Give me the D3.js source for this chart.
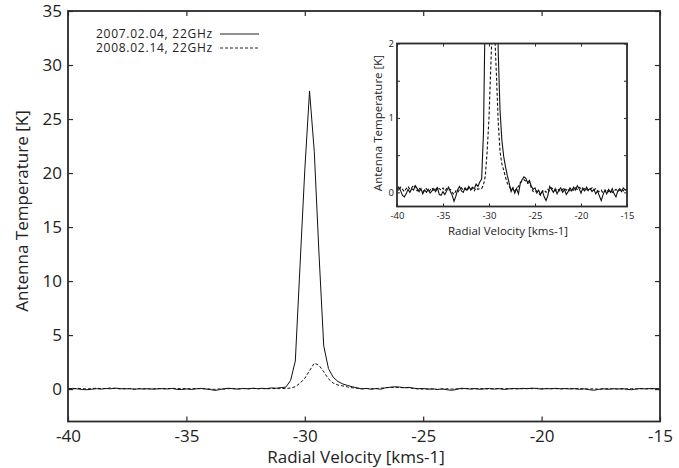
<!DOCTYPE html>
<html>
<head>
<meta charset="utf-8">
<script src="https://cdn.jsdelivr.net/npm/d3@7"></script>
<style>
  body { margin: 0; background: #fff; }
  svg { display: block; font-family: "Open Sans", sans-serif; }
</style>
</head>
<body>
<svg width="679" height="468"></svg>
<script>
// Channel velocities [km/s]
var velocity = [
  -40.0, -39.8, -39.6, -39.4, -39.2, -39.0, -38.8, -38.6, -38.4, -38.2,
  -38.0, -37.8, -37.6, -37.4, -37.2, -37.0, -36.8, -36.6, -36.4, -36.2,
  -36.0, -35.8, -35.6, -35.4, -35.2, -35.0, -34.8, -34.6, -34.4, -34.2,
  -34.0, -33.8, -33.6, -33.4, -33.2, -33.0, -32.8, -32.6, -32.4, -32.2,
  -32.0, -31.8, -31.6, -31.4, -31.2, -31.0, -30.8, -30.6, -30.4, -30.2,
  -30.0, -29.8, -29.6, -29.4, -29.2, -29.0, -28.8, -28.6, -28.4, -28.2,
  -28.0, -27.8, -27.6, -27.4, -27.2, -27.0, -26.8, -26.6, -26.4, -26.2,
  -26.0, -25.8, -25.6, -25.4, -25.2, -25.0, -24.8, -24.6, -24.4, -24.2,
  -24.0, -23.8, -23.6, -23.4, -23.2, -23.0, -22.8, -22.6, -22.4, -22.2,
  -22.0, -21.8, -21.6, -21.4, -21.2, -21.0, -20.8, -20.6, -20.4, -20.2,
  -20.0, -19.8, -19.6, -19.4, -19.2, -19.0, -18.8, -18.6, -18.4, -18.2,
  -18.0, -17.8, -17.6, -17.4, -17.2, -17.0, -16.8, -16.6, -16.4, -16.2,
  -16.0, -15.8, -15.6, -15.4, -15.2, -15.0
];

// 2007.02.04, 22GHz antenna temperature [K]
var temp2007 = [
  0.03, 0.07, 0.02, -0.04, -0.06, -0.02, 0.04, 0.00, 0.05, 0.03,
  0.09, 0.05, 0.01, 0.05, -0.02, 0.03, 0.00, 0.04, -0.01, 0.02,
  0.05, 0.01, 0.06, -0.03, -0.04, 0.01, -0.03, 0.02, 0.07, 0.01,
  -0.04, -0.12, -0.05, 0.04, 0.08, 0.02, 0.00, 0.06, 0.03, 0.08,
  0.04, 0.07, 0.05, 0.11, 0.08, 0.14, 0.18, 0.8, 2.6, 11.5,
  20.3, 27.6, 22.0, 12.5, 4.0, 1.9, 1.1, 0.7, 0.48, 0.34,
  0.22, 0.12, 0.01, 0.06, -0.01, 0.05, -0.02, 0.12, 0.17, 0.21,
  0.19, 0.13, 0.16, 0.08, 0.04, 0.06, -0.01, 0.03, -0.03, 0.02,
  -0.06, -0.11, -0.04, 0.08, 0.04, 0.00, 0.05, -0.02, 0.03, 0.06,
  0.00, 0.04, -0.03, 0.01, 0.06, 0.02, 0.07, 0.03, 0.09, 0.05,
  -0.01, 0.06, 0.02, 0.07, 0.03, 0.05, 0.01, 0.04, -0.02, 0.02,
  -0.05, -0.11, -0.03, 0.03, -0.02, 0.04, 0.00, 0.05, -0.02, -0.06,
  0.02, 0.05, 0.01, 0.06, 0.03, 0.04
];

// 2008.02.14, 22GHz antenna temperature [K]
var temp2008 = [
  0.06, 0.02, 0.07, 0.04, 0.01, 0.05, 0.08, 0.04, 0.06, 0.10,
  0.05, 0.02, 0.06, 0.03, 0.00, 0.04, 0.05, 0.01, 0.03, 0.06,
  0.02, 0.04, 0.07, 0.05, 0.03, 0.06, 0.02, 0.05, 0.03, 0.04,
  0.00, -0.03, 0.02, 0.00, 0.04, 0.06, 0.03, 0.05, 0.02, 0.06,
  0.03, 0.05, 0.02, 0.06, 0.04, 0.05, 0.05, 0.10, 0.22, 0.55,
  1.0, 1.7, 2.4, 2.2, 1.6, 0.95, 0.55, 0.38, 0.30, 0.20,
  0.12, 0.08, 0.03, 0.06, 0.02, 0.05, 0.08, 0.13, 0.15, 0.17,
  0.15, 0.12, 0.13, 0.06, 0.01, 0.00, 0.02, -0.01, -0.04, 0.01,
  0.03, 0.00, 0.04, 0.02, 0.06, 0.04, 0.02, 0.05, 0.03, 0.01,
  0.04, 0.06, 0.03, 0.05, 0.02, 0.05, 0.03, 0.06, 0.04, 0.07,
  0.05, 0.03, 0.06, 0.04, 0.02, 0.04, 0.06, 0.03, 0.05, 0.02,
  0.01, 0.03, -0.01, 0.02, 0.04, 0.01, 0.03, 0.00, 0.02, 0.04,
  0.01, 0.03, 0.05, 0.02, 0.04, 0.03
];

var seriesNames = ["2007.02.04, 22GHz", "2008.02.14, 22GHz"];
var seriesDash = [null, "3,2"];
var xTicks = [-40, -35, -30, -25, -20, -15];
var yTicks = [0, 5, 10, 15, 20, 25, 30, 35];
var insetYTicks = [0, 1, 2];

var series = [temp2007, temp2008].map(function(t) {
  return velocity.map(function(v, i) { return [v, t[i]]; });
});

var svg = d3.select("svg");
var axisColor = "#2b2b2b";
var plain = function(d) { return String(d); };   // keep ASCII hyphen for negatives

// ---- main panel ----
var x = d3.scaleLinear().domain([-40, -15]).range([68, 660]);
var y = d3.scaleLinear().domain([-3, 35]).range([421.5, 11]);

var line = d3.line()
  .x(function(d) { return x(d[0]); })
  .y(function(d) { return y(d[1]); });

svg.selectAll(".main-line")
  .data(series)
  .enter().append("path")
    .attr("class", "main-line")
    .attr("d", line)
    .attr("fill", "none")
    .attr("stroke", "#111")
    .attr("stroke-width", 1)
    .attr("stroke-dasharray", function(d, i) { return seriesDash[i]; });

// axes, ticks point inward on all four sides
var main = svg.append("g").attr("class", "main-axes");
main.append("g")
  .attr("transform", "translate(0," + y.range()[0] + ")")
  .call(d3.axisBottom(x).tickValues(xTicks).tickSizeInner(-5).tickSizeOuter(0).tickPadding(8).tickFormat(plain));
main.append("g")
  .attr("transform", "translate(0," + y.range()[1] + ")")
  .call(d3.axisTop(x).tickValues(xTicks).tickSizeInner(-5).tickSizeOuter(0).tickFormat(""));
main.append("g")
  .attr("transform", "translate(" + x.range()[0] + ",0)")
  .call(d3.axisLeft(y).tickValues(yTicks).tickSizeInner(-5).tickSizeOuter(0).tickPadding(6).tickFormat(plain));
main.append("g")
  .attr("transform", "translate(" + x.range()[1] + ",0)")
  .call(d3.axisRight(y).tickValues(yTicks).tickSizeInner(-5).tickSizeOuter(0).tickFormat(""));

main.selectAll(".domain").remove();
main.selectAll(".tick line").attr("stroke", axisColor).attr("stroke-width", 1.2);
main.selectAll(".tick text")
  .attr("font-family", "Open Sans, sans-serif")
  .attr("font-size", 17)
  .attr("fill", "#222");

svg.append("rect")
  .attr("x", x.range()[0]).attr("y", y.range()[1])
  .attr("width", x.range()[1] - x.range()[0])
  .attr("height", y.range()[0] - y.range()[1])
  .attr("fill", "none")
  .attr("stroke", axisColor)
  .attr("stroke-width", 1.8);

svg.append("text")
  .attr("x", 356).attr("y", 463)
  .attr("text-anchor", "middle")
  .attr("font-size", 17)
  .attr("fill", "#222")
  .text("Radial Velocity [kms-1]");

svg.append("text")
  .attr("transform", "translate(28,211) rotate(-90)")
  .attr("text-anchor", "middle")
  .attr("font-size", 17)
  .attr("fill", "#222")
  .text("Antenna Temperature [K]");

// legend
var legend = svg.selectAll(".legend")
  .data(seriesNames)
  .enter().append("g")
    .attr("class", "legend")
    .attr("transform", function(d, i) { return "translate(0," + (i * 14) + ")"; });
legend.append("text")
  .attr("x", 213).attr("y", 37.5)
  .attr("text-anchor", "end")
  .attr("font-size", 12)
  .attr("letter-spacing", 0.75)
  .attr("fill", "#222")
  .text(function(d) { return d; });
legend.append("line")
  .attr("x1", 220).attr("x2", 259)
  .attr("y1", 34).attr("y2", 34)
  .attr("stroke", "#222")
  .attr("stroke-width", 1)
  .attr("stroke-dasharray", function(d, i) { return seriesDash[i]; });

// ---- inset ----
var ix = d3.scaleLinear().domain([-40, -15]).range([397, 627]);
var iy = d3.scaleLinear().domain([-0.19, 2]).range([206.5, 43.5]);

svg.append("rect")
  .attr("x", 397).attr("y", 43.5)
  .attr("width", 230).attr("height", 163)
  .attr("fill", "#fff");

svg.append("clipPath").attr("id", "inset-clip")
  .append("rect")
    .attr("x", 397).attr("y", 43.5)
    .attr("width", 230).attr("height", 163);

var iline = d3.line()
  .x(function(d) { return ix(d[0]); })
  .y(function(d) { return iy(d[1]); });

svg.append("g")
  .attr("clip-path", "url(#inset-clip)")
  .selectAll("path")
  .data(series)
  .enter().append("path")
    .attr("d", iline)
    .attr("fill", "none")
    .attr("stroke", "#111")
    .attr("stroke-width", 1.1)
    .attr("stroke-dasharray", function(d, i) { return seriesDash[i]; });

var inset = svg.append("g").attr("class", "inset");
var minorY = [0, 0.5, 1, 1.5, 2];

inset.append("g")
  .attr("transform", "translate(0,206.5)")
  .call(d3.axisBottom(ix).tickValues(xTicks).tickSizeInner(-3).tickSizeOuter(0).tickPadding(6).tickFormat(plain));
inset.append("g")
  .attr("transform", "translate(0,43.5)")
  .call(d3.axisTop(ix).tickValues(xTicks).tickSizeInner(-3).tickSizeOuter(0).tickFormat(""));
inset.append("g")
  .attr("transform", "translate(397,0)")
  .call(d3.axisLeft(iy).tickValues(minorY).tickSizeInner(-3).tickSizeOuter(0).tickPadding(3)
    .tickFormat(function(d) { return insetYTicks.indexOf(d) >= 0 ? d : ""; }));
inset.append("g")
  .attr("transform", "translate(627,0)")
  .call(d3.axisRight(iy).tickValues(minorY).tickSizeInner(-3).tickSizeOuter(0).tickFormat(""));

inset.selectAll(".domain").remove();
inset.selectAll(".tick line").attr("stroke", axisColor).attr("stroke-width", 1);
inset.selectAll(".tick text")
  .attr("font-family", "Open Sans, sans-serif")
  .attr("font-size", 9.5)
  .attr("fill", "#222");

inset.append("rect")
  .attr("x", 397).attr("y", 43.5)
  .attr("width", 230).attr("height", 163)
  .attr("fill", "none")
  .attr("stroke", axisColor)
  .attr("stroke-width", 1.8);

inset.append("text")
  .attr("x", 508).attr("y", 235)
  .attr("text-anchor", "middle")
  .attr("font-size", 11.5)
  .attr("fill", "#222")
  .text("Radial Velocity [kms-1]");

inset.append("text")
  .attr("transform", "translate(382,123) rotate(-90)")
  .attr("text-anchor", "middle")
  .attr("font-size", 11.5)
  .attr("fill", "#222")
  .text("Antenna Temperature [K]");
</script>
</body>
</html>
